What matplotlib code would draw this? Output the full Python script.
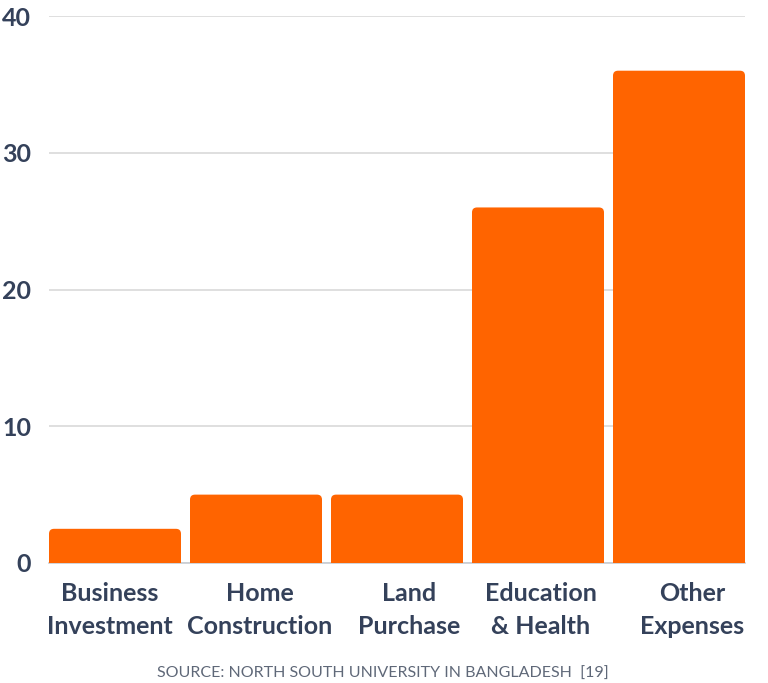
import matplotlib
matplotlib.use("Agg")
import matplotlib.pyplot as plt
from matplotlib.patches import FancyBboxPatch, Rectangle
from matplotlib.transforms import ScaledTranslation

categories = ["Business\nInvestment", "Home\nConstruction", "Land\nPurchase",
              "Education\n& Health", "Other\nExpenses"]
values = [2.5, 5, 5, 26, 36]
yticks = [0, 10, 20, 30, 40]
source = "SOURCE: NORTH SOUTH UNIVERSITY IN BANGLADESH  [19]"

bar_color = "#ff6400"
text_color = "#34415a"
plt.rcParams['font.family'] = ['Lato', 'DejaVu Sans']

fig = plt.figure(figsize=(7.68, 6.83), dpi=100)
ax = fig.add_axes([49/768, 1 - 563/683, 696/768, (563 - 16)/683])

w = 132/141
xs = list(range(len(values)))
bars = ax.bar(xs, values, width=w, color=bar_color, zorder=3)

# swap plain bars for ones with rounded tops
x_px = 141.0
y_px = 547/40.0
r = 5/x_px
for b in bars:
    x0, y0 = b.get_x(), b.get_y()
    bw, bh = b.get_width(), b.get_height()
    b.set_visible(False)
    ax.add_patch(FancyBboxPatch((x0, y0), bw, bh,
                                boxstyle="round,pad=0,rounding_size=%f" % r,
                                mutation_aspect=x_px/y_px,
                                fc=bar_color, ec="none", zorder=3))
    ax.add_patch(Rectangle((x0, y0), bw, bh/2, fc=bar_color, ec="none", zorder=3))

ax.set_xlim(-w/2, 4 + w/2)
ax.set_ylim(0, 40)
ax.set_yticks(yticks)
ax.grid(axis="y", color="#d9d9d9", linewidth=1.2, zorder=0)
ax.set_axisbelow(True)
for s in ["top", "right", "left"]:
    ax.spines[s].set_visible(False)
ax.spines["bottom"].set_color("#c8ccd2")
ax.spines["bottom"].set_linewidth(1.2)
ax.tick_params(length=0)
ax.tick_params(axis="y", pad=13, labelsize=18, labelcolor=text_color)
ax.tick_params(axis="x", pad=14, labelsize=18, labelcolor=text_color)
ax.set_xticks(xs)
ax.set_xticklabels(categories, fontweight="bold", linespacing=1.5)
for t in ax.get_yticklabels():
    t.set_fontweight("bold")

# labels in the original sit a little off the bar centres
shifts = [-5, 4, 12, 3, 13]
for t, dx in zip(ax.get_xticklabels(), shifts):
    t.set_transform(t.get_transform() + ScaledTranslation(dx/100, 0, fig.dpi_scale_trans))

fig.text(383/768, 1 - 674/683, source, ha="center", va="center",
         fontsize=11.5, color="#5f6878")

fig.savefig("out.png", dpi=100)
